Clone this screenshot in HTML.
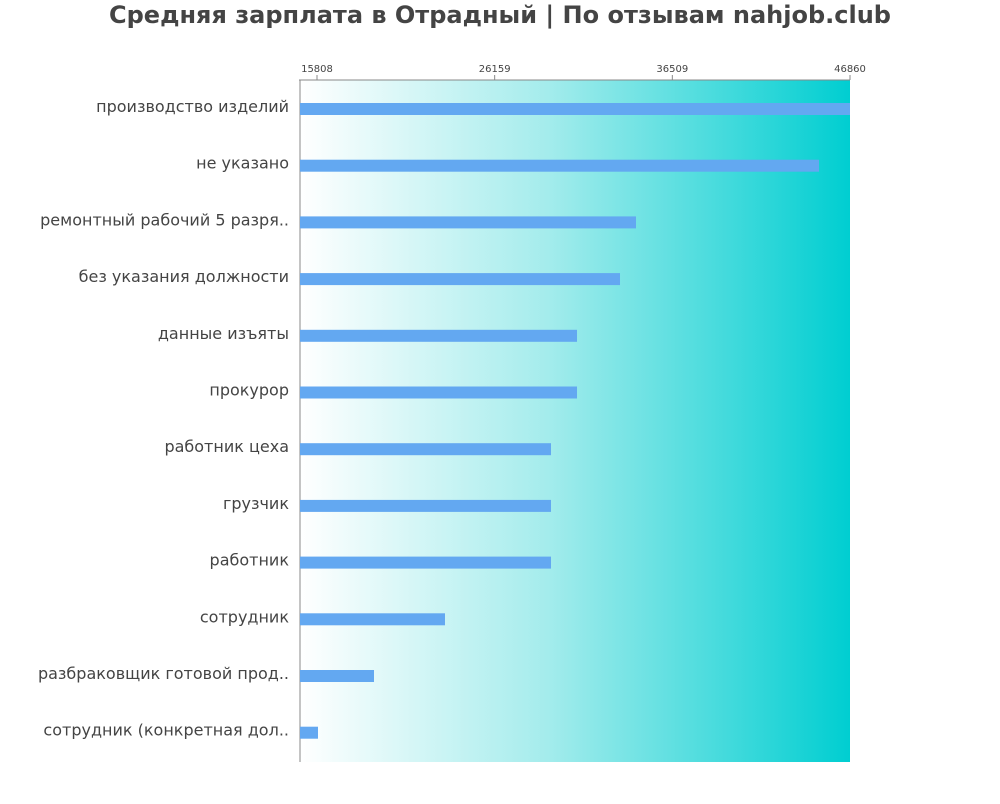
<!DOCTYPE html>
<html><head><meta charset="utf-8"><style>
body{margin:0;background:#fff;width:1000px;height:800px;overflow:hidden;font-family:"DejaVu Sans","Liberation Sans",sans-serif;}
</style></head><body>
<svg id="chart" width="1000" height="800" xmlns="http://www.w3.org/2000/svg">
<defs><linearGradient id="bg" x1="0" x2="1" y1="0" y2="0">
<stop offset="0" stop-color="#ffffff"/><stop offset="0.45" stop-color="#a4ecec"/><stop offset="1" stop-color="#00ced1"/></linearGradient></defs>
<text x="500" y="23" text-anchor="middle" font-size="24" font-weight="bold" fill="#444">Средняя зарплата в Отрадный | По отзывам nahjob.club</text>
<rect x="300" y="80" width="550" height="682" fill="url(#bg)"/>
<line x1="299" y1="80" x2="850" y2="80" stroke="#888" stroke-width="1"/>
<line x1="300" y1="80" x2="300" y2="762" stroke="#888" stroke-width="1"/>
<g id="ticks"></g><g id="bars"></g><g id="labels"></g>
</svg>
<script>
const categories=["производство изделий","не указано","ремонтный рабочий 5 разря..","без указания должности","данные изъяты","прокурор","работник цеха","грузчик","работник","сотрудник","разбраковщик готовой прод..","сотрудник (конкретная дол.."];
const values=[46860,45054,34393,33461,30956,30956,29441,29441,29441,23265,19129,15866];
const tickValues=[15808,26159,36509,46860];
const tickLabels=["15808","26159","36509","46860"];
const NS="http://www.w3.org/2000/svg";
const xMin=14818,xMax=46860,x0=300,x1=850;
function xs(v){return x0+(v-xMin)/(xMax-xMin)*(x1-x0);}
function yc(i){return 109+i*56.7;}
const tg=document.getElementById('ticks'),bg=document.getElementById('bars'),lg=document.getElementById('labels');
tickValues.forEach((v,i)=>{
 const l=document.createElementNS(NS,'line');
 
 
 l.setAttribute('x1',xs(v));l.setAttribute('x2',xs(v));l.setAttribute('y1',75);l.setAttribute('y2',80);l.setAttribute('stroke','#888');
 tg.appendChild(l);
 const t=document.createElementNS(NS,'text');
 
 
 t.setAttribute('x',xs(v));t.setAttribute('y',72);t.setAttribute('text-anchor','middle');t.setAttribute('font-size','10');t.setAttribute('fill','#444');
 t.textContent=tickLabels[i];tg.appendChild(t);
});
values.forEach((v,i)=>{
 const r=document.createElementNS(NS,'rect');
 
 
 r.setAttribute('x',x0);r.setAttribute('y',yc(i)-6);r.setAttribute('width',xs(v)-x0);r.setAttribute('height',12);r.setAttribute('fill','#63a8f1');
 bg.appendChild(r);
 const t=document.createElementNS(NS,'text');
 
 
 t.setAttribute('x',289);t.setAttribute('y',yc(i)+3);t.setAttribute('text-anchor','end');t.setAttribute('font-size','16');t.setAttribute('fill','#444');
 t.textContent=categories[i];lg.appendChild(t);
});
</script>
</body></html>
